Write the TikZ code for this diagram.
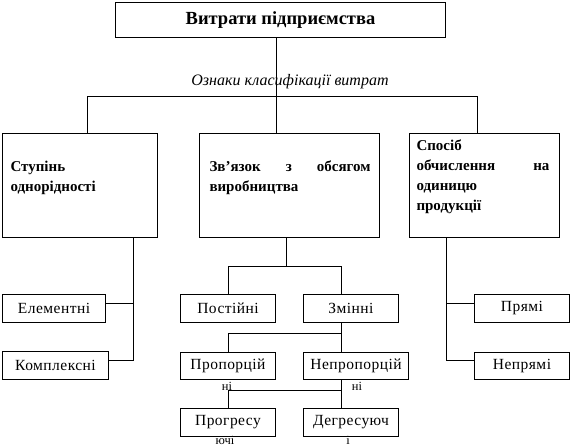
\documentclass[tikz,border=0pt]{standalone}
\usepackage{fontspec}
\setmainfont{Liberation Serif}
\usetikzlibrary{calc}
\begin{document}
\begin{tikzpicture}[x=1pt,y=-1pt,line width=1pt,
  box/.style={draw,line width=1pt,inner sep=0pt,anchor=north west},
  titlef/.style={font=\fontsize{18.5}{20}\selectfont\bfseries},
  mtxt/.style={font=\fontsize{15}{20}\selectfont\bfseries,align=left,inner sep=0pt,anchor=west},
  ltxt/.style={font=\fontsize{15.5}{18}\selectfont\addfontfeature{LetterSpace=3}},
  lab/.style={font=\fontsize{16}{18}\selectfont\itshape,inner sep=0pt},
  small/.style={font=\fontsize{12.5}{13}\selectfont,inner sep=0pt}]
\useasboundingbox (0,0) rectangle (570,447);
% boxes
\node[box,titlef,minimum width=330pt,minimum height=35pt] (top) at (115,2) {Витрати підприємства};
\node[box,minimum width=155pt,minimum height=104pt] (b1) at (2,133) {};
\node[box,minimum width=180pt,minimum height=104pt] (b2) at (199,133) {};
\node[box,minimum width=150pt,minimum height=104pt] (b3) at (409,133) {};
\node[mtxt,text width=139pt] (t1) at (10,178) {Ступінь\\однорідності};
\node[mtxt,text width=161pt] (t2) at (209,178) {Зв’язок\hfill з\hfill обсягом\\виробництва};
\node[mtxt,text width=133pt] (t3) at (416,177) {Спосіб\\обчислення\hfill на\\одиницю\\продукції};
\node[lab] (lbl) at (290,82) {Ознаки класифікації витрат};
% lower boxes
\node[box,ltxt,minimum width=103pt,minimum height=28pt] (el) at (2,294) {Елементні};
\node[box,ltxt,minimum width=106pt,minimum height=28pt] (ko) at (2,351) {Комплексні};
\node[box,ltxt,minimum width=95pt,minimum height=28pt] (po) at (180,294) {Постійні};
\node[box,ltxt,minimum width=95pt,minimum height=28pt] (zm) at (303,294) {Змінні};
\node[box,ltxt,minimum width=95pt,minimum height=27pt] (pr) at (180,352) {Пропорцій};
\node[box,ltxt,minimum width=105pt,minimum height=27pt] (np) at (303,352) {Непропорцій};
\node[box,ltxt,minimum width=95pt,minimum height=28pt] (pg) at (180,408) {Прогресу};
\node[box,ltxt,minimum width=95pt,minimum height=28pt] (dg) at (303,408) {Дегресуюч};
\node[box,ltxt,minimum width=95pt,minimum height=28pt] (pm) at (474,294) {Прямі};
\node[box,ltxt,minimum width=95pt,minimum height=27pt] (npm) at (474,352) {Непрямі};
\node[small] (s1) at (227,386) {ні};
\node[small] (s2) at (357,386) {ні};
\node[small] (s3) at (225,440) {ючі};
\node[small] (s4) at (348,440) {і};
% connectors top
\coordinate (hl) at (87,96);
\coordinate (hr) at (477,96);
\coordinate (hm) at (276,96);
\draw (top.south -| hm) -- (hm |- b2.north);
\draw (hl |- b1.north) -- (hl) -- (hr) -- (hr |- b3.north);
% left
\coordinate (lx) at (133,0);
\coordinate (ly1) at (133,303);
\coordinate (ly2) at (133,360);
\draw (lx |- b1.south) -- (ly2) -- (ly2 -| ko.east);
\draw (ly1) -- (ly1 -| el.east);
% middle
\coordinate (cx) at (341,0);
\coordinate (m1) at (286,266);
\coordinate (m2) at (341,333);
\coordinate (m3) at (341,390);
\draw (m1 |- b2.south) -- (m1);
\draw (po.north) -- (po.north |- m1) -- (cx |- m1) -- (cx |- zm.north);
\draw (cx |- zm.south) -- (cx |- np.north);
\draw (m2) -- (m2 -| pr.north) -- (pr.north);
\draw (cx |- np.south) -- (cx |- dg.north);
\draw (m3) -- (m3 -| pg.north) -- (pg.north);
% right
\coordinate (rx) at (446,0);
\coordinate (ry1) at (446,303);
\coordinate (ry2) at (446,360);
\draw (rx |- b3.south) -- (ry2) -- (ry2 -| npm.west);
\draw (ry1) -- (ry1 -| pm.west);
\end{tikzpicture}
\end{document}
